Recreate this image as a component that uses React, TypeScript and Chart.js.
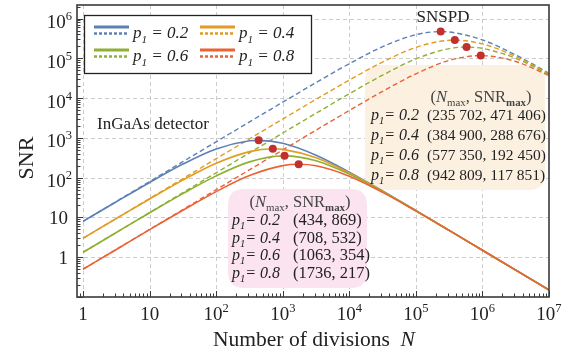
import React, { useEffect, useRef } from "react";
import { Chart, registerables } from "chart.js";
Chart.register(...registerables);

// ---------- data ----------
const P_LABELS = ["0.2", "0.4", "0.6", "0.8"];
const COLORS = ["#5E81B5", "#E09C24", "#8FB032", "#EB6235"];
const DOT_COLOR = "#C0302E";

const N_SAMPLES = [1, 3.16, 10, 31.6, 100, 316, 1000, 3162, 10000, 31623, 100000, 316228, 1000000, 3162278, 10000000];

// InGaAs detector (solid)
const INGAAS_02 = [8.0, 24.9, 76, 220, 528, 847, 733, 368, 138, 46.4, 14.9, 4.75, 1.5, 0.476, 0.151];
const INGAAS_04 = [3.0, 9.4, 29.2, 87, 230, 453, 515, 317, 131, 45.5, 14.8, 4.73, 1.5, 0.475, 0.15];
const INGAAS_06 = [1.33, 4.19, 13.1, 39.8, 111, 250, 354, 267, 123, 44.6, 14.75, 4.73, 1.5, 0.475, 0.15];
const INGAAS_08 = [0.5, 1.57, 4.94, 15.2, 44.7, 113, 201, 199, 109, 42.8, 14.6, 4.72, 1.5, 0.475, 0.15];

// SNSPD (dashed)
const SNSPD_02 = [8, 25.3, 80, 253, 799, 2523, 7932, 24600, 73600, 196700, 394000, 461000, 291000, 121700, 42400];
const SNSPD_04 = [3, 9.49, 30, 94.8, 300, 947, 2984, 9333, 28500, 81000, 189000, 285900, 231700, 111700, 41200];
const SNSPD_06 = [1.333, 4.22, 13.3, 42.2, 133, 421, 1329, 4170, 12880, 37900, 96900, 176000, 178600, 100500, 39700];
const SNSPD_08 = [0.5, 1.58, 5, 15.8, 50, 158, 499, 1570, 4895, 14800, 40900, 88700, 117700, 83400, 37100];

const INGAAS_SERIES = [INGAAS_02, INGAAS_04, INGAAS_06, INGAAS_08];
const SNSPD_SERIES = [SNSPD_02, SNSPD_04, SNSPD_06, SNSPD_08];

const INGAAS_PEAK_N = [434, 708, 1063, 1736];
const INGAAS_PEAK_SNR = [869, 532, 354, 217];
const SNSPD_PEAK_N = [235702, 384900, 577350, 942809];
const SNSPD_PEAK_SNR = [471406, 288676, 192450, 117851];

const X_TICKS = [1, 10, 100, 1000, 10000, 100000, 1000000, 10000000];
const X_TICK_LABELS = ["1", "10", "10^2", "10^3", "10^4", "10^5", "10^6", "10^7"];
const Y_TICKS = [1, 10, 100, 1000, 10000, 100000, 1000000];
const Y_TICK_LABELS = ["1", "10", "10^2", "10^3", "10^4", "10^5", "10^6"];

const X_MIN = 0.81, X_MAX = 1e7, Y_MIN = 0.1, Y_MAX = 2.2e6;

// ---------- helpers ----------
const FF = '"Liberation Serif", "Times New Roman", serif';
type Seg = { t: string; i?: boolean; b?: boolean; s?: "sub" | "sup" };
const fnt = (size: number, i?: boolean, b?: boolean) => `${i ? "italic " : ""}${b ? "bold " : ""}${size}px ${FF}`;

function drawRich(ctx: CanvasRenderingContext2D, segs: Seg[], x: number, y: number, size: number, align: "left" | "center" | "right" = "left", subScale = 0.66) {
  const parts = segs.map((s) => {
    const sz = s.s ? size * subScale : size;
    ctx.font = fnt(sz, s.i, s.b);
    return { s, sz, w: ctx.measureText(s.t).width };
  });
  const total = parts.reduce((a, p) => a + p.w, 0);
  let cx = align === "center" ? x - total / 2 : align === "right" ? x - total : x;
  ctx.textAlign = "left";
  ctx.textBaseline = "alphabetic";
  for (const p of parts) {
    ctx.font = fnt(p.sz, p.s.i, p.s.b);
    const dy = p.s.s === "sub" ? size * 0.27 : p.s.s === "sup" ? -size * 0.42 : 0;
    ctx.fillText(p.s.t, cx, y + dy);
    cx += p.w;
  }
}

const powSegs = (lab: string): Seg[] => {
  const [b, e] = lab.split("^");
  return e ? [{ t: b }, { t: e, s: "sup" }] : [{ t: b }];
};

const groupDigits = (n: number) => {
  const s = String(n);
  return s.length > 4 ? s.replace(/\B(?=(\d{3})+(?!\d))/g, " ") : s;
};

function rrect(ctx: CanvasRenderingContext2D, x: number, y: number, w: number, h: number, r: number) {
  ctx.beginPath();
  ctx.moveTo(x + r, y);
  ctx.lineTo(x + w - r, y);
  ctx.quadraticCurveTo(x + w, y, x + w, y + r);
  ctx.lineTo(x + w, y + h - r);
  ctx.quadraticCurveTo(x + w, y + h, x + w - r, y + h);
  ctx.lineTo(x + r, y + h);
  ctx.quadraticCurveTo(x, y + h, x, y + h - r);
  ctx.lineTo(x, y + r);
  ctx.quadraticCurveTo(x, y, x + r, y);
  ctx.closePath();
}

function merge(values: number[], pn: number, ps: number) {
  const pts = N_SAMPLES.map((n, k) => ({ x: n, y: values[k] }));
  pts.push({ x: pn, y: ps });
  pts.sort((a, b) => a.x - b.x);
  return pts;
}

const pLabel = (v: string, eqSpace = true): Seg[] => [
  { t: "p", i: true },
  { t: "1", i: true, s: "sub" },
  { t: eqSpace ? " = " + v : "= " + v, i: true },
];

// ---------- plugin ----------
const deco = {
  id: "deco",
  beforeDatasetsDraw(chart: any) {
    const { ctx, chartArea: a, scales } = chart;
    const x = scales.x, y = scales.y;
    ctx.save();
    ctx.strokeStyle = "#cccccc";
    ctx.lineWidth = 1;
    ctx.setLineDash([4, 3]);
    for (const v of X_TICKS.slice(0, -1)) {
      const px = Math.round(x.getPixelForValue(v)) + 0.5;
      ctx.beginPath(); ctx.moveTo(px, a.top); ctx.lineTo(px, a.bottom); ctx.stroke();
    }
    for (const v of Y_TICKS) {
      const py = Math.round(y.getPixelForValue(v)) + 0.5;
      ctx.beginPath(); ctx.moveTo(a.left, py); ctx.lineTo(a.right, py); ctx.stroke();
    }
    ctx.setLineDash([]);
    // annotation boxes
    ctx.fillStyle = "#FCF1E1";
    rrect(ctx, 365, 65, 180, 125, 16); ctx.fill();
    ctx.fillStyle = "#FBE4EF";
    rrect(ctx, 228, 189, 139, 99, 16); ctx.fill();
    ctx.restore();
  },
  afterDatasetsDraw(chart: any) {
    const { ctx, chartArea: a, scales } = chart;
    const x = scales.x, y = scales.y;
    ctx.save();
    ctx.fillStyle = "#222";

    // frame
    ctx.strokeStyle = "#3a3a3a";
    ctx.lineWidth = 1.6;
    ctx.strokeRect(a.left, a.top, a.right - a.left, a.bottom - a.top);

    // ticks
    ctx.lineWidth = 1;
    for (let d = -1; d <= 7; d++) {
      for (let m = 1; m <= 9; m++) {
        const v = m * Math.pow(10, d);
        if (v >= X_MIN && v <= X_MAX) {
          const px = Math.round(x.getPixelForValue(v)) + 0.5;
          const len = m === 1 ? 6 : 3.5;
          ctx.beginPath(); ctx.moveTo(px, a.bottom); ctx.lineTo(px, a.bottom - len); ctx.stroke();
        }
        if (v >= Y_MIN && v <= Y_MAX) {
          const py = Math.round(y.getPixelForValue(v)) + 0.5;
          const len = m === 1 ? 6 : 3.5;
          ctx.beginPath(); ctx.moveTo(a.left, py); ctx.lineTo(a.left + len, py); ctx.stroke();
        }
      }
    }

    // tick labels
    X_TICKS.forEach((v, k) => {
      const px = x.getPixelForValue(v);
      drawRich(ctx, powSegs(X_TICK_LABELS[k]), px, 320, 19, "center");
    });
    Y_TICKS.forEach((v, k) => {
      const py = y.getPixelForValue(v);
      const lab = Y_TICK_LABELS[k];
      const sup = lab.includes("^");
      drawRich(ctx, powSegs(lab), sup ? 72 : 68, py + (sup ? 9.5 : 6.5), 19, "right");
    });

    // axis titles
    drawRich(ctx, [{ t: "Number of divisions  " }, { t: "N", i: true }], 314, 346, 21.5, "center");
    ctx.save();
    ctx.translate(33, 158);
    ctx.rotate(-Math.PI / 2);
    drawRich(ctx, [{ t: "SNR" }], 0, 0, 22, "center");
    ctx.restore();

    // region labels
    drawRich(ctx, [{ t: "SNSPD" }], 443, 22, 17, "center");
    drawRich(ctx, [{ t: "InGaAs detector" }], 97, 129, 17, "left");

    // SNSPD box text
    const hdr: Seg[] = [
      { t: "(" }, { t: "N", i: true }, { t: "max", s: "sub" }, { t: ", SNR" }, { t: "max", s: "sub", b: true }, { t: ")" },
    ];
    ctx.fillStyle = "#444";
    drawRich(ctx, hdr, 481, 102, 16.5, "center");
    ctx.fillStyle = "#222";
    P_LABELS.forEach((p, k) => {
      const by = 120 + k * 20;
      drawRich(ctx, pLabel(p, false), 371, by, 16, "left");
      drawRich(ctx, [{ t: `(${groupDigits(SNSPD_PEAK_N[k])}, ${groupDigits(SNSPD_PEAK_SNR[k])})` }], 427, by, 15.5, "left");
    });
    // InGaAs box text
    ctx.fillStyle = "#444";
    drawRich(ctx, hdr, 300, 207, 16.5, "center");
    ctx.fillStyle = "#222";
    P_LABELS.forEach((p, k) => {
      const by = 225 + k * 17.5;
      drawRich(ctx, pLabel(p, false), 232, by, 16, "left");
      drawRich(ctx, [{ t: `(${groupDigits(INGAAS_PEAK_N[k])}, ${groupDigits(INGAAS_PEAK_SNR[k])})` }], 293, by, 16.5, "left");
    });

    // legend
    ctx.fillStyle = "#fff";
    ctx.fillRect(84.5, 15.5, 227, 58);
    ctx.strokeStyle = "#222";
    ctx.lineWidth = 1.3;
    ctx.strokeRect(84.5, 15.5, 227, 58);
    const cols = [94, 200];
    const rows = [27, 50];
    P_LABELS.forEach((p, k) => {
      const cx = cols[k % 2];
      const ry = rows[Math.floor(k / 2)];
      ctx.strokeStyle = COLORS[k];
      ctx.lineWidth = 3;
      ctx.setLineDash([]);
      ctx.beginPath(); ctx.moveTo(cx, ry); ctx.lineTo(cx + 35, ry); ctx.stroke();
      ctx.setLineDash([3, 2]);
      ctx.lineWidth = 2.6;
      ctx.beginPath(); ctx.moveTo(cx, ry + 6.5); ctx.lineTo(cx + 35, ry + 6.5); ctx.stroke();
      ctx.setLineDash([]);
      ctx.fillStyle = "#222";
      drawRich(ctx, pLabel(p, true), cx + 39, ry + 11, 17, "left");
    });
    ctx.restore();
  },
};

export default function App() {
  const ref = useRef<HTMLCanvasElement | null>(null);
  useEffect(() => {
    if (!ref.current) return;
    const datasets: any[] = [];
    const dots = [
      ...INGAAS_PEAK_N.map((n, k) => ({ x: n, y: INGAAS_PEAK_SNR[k] })),
      ...SNSPD_PEAK_N.map((n, k) => ({ x: n, y: SNSPD_PEAK_SNR[k] })),
    ];
    datasets.push({
      type: "scatter",
      data: dots,
      pointRadius: 4,
      pointBackgroundColor: DOT_COLOR,
      pointBorderWidth: 0,
      showLine: false,
    });
    for (let k = 3; k >= 0; k--) {
      datasets.push({
        type: "line",
        data: merge(INGAAS_SERIES[k], INGAAS_PEAK_N[k], INGAAS_PEAK_SNR[k]),
        borderColor: COLORS[k],
        borderWidth: 1.6,
        pointRadius: 0,
        fill: false,
        cubicInterpolationMode: "monotone",
      });
    }
    for (let k = 3; k >= 0; k--) {
      datasets.push({
        type: "line",
        data: merge(SNSPD_SERIES[k], SNSPD_PEAK_N[k], SNSPD_PEAK_SNR[k]),
        borderColor: COLORS[k],
        borderWidth: 1.4,
        borderDash: [5, 3],
        pointRadius: 0,
        fill: false,
        cubicInterpolationMode: "monotone",
      });
    }
    const chart = new Chart(ref.current, {
      type: "line",
      data: { datasets },
      options: {
        responsive: true,
        maintainAspectRatio: false,
        animation: false,
        events: [],
        layout: { padding: { left: 77, right: 25, top: 5, bottom: 58 } },
        plugins: { legend: { display: false }, tooltip: { enabled: false } },
        scales: {
          x: { type: "logarithmic", min: X_MIN, max: X_MAX, display: false },
          y: { type: "logarithmic", min: Y_MIN, max: Y_MAX, display: false },
        },
      },
      plugins: [deco],
    } as any);
    return () => chart.destroy();
  }, []);
  return (
    <div style={{ position: "fixed", left: 0, top: 0, width: 574, height: 355, background: "#fff" }}>
      <canvas ref={ref} />
    </div>
  );
}
